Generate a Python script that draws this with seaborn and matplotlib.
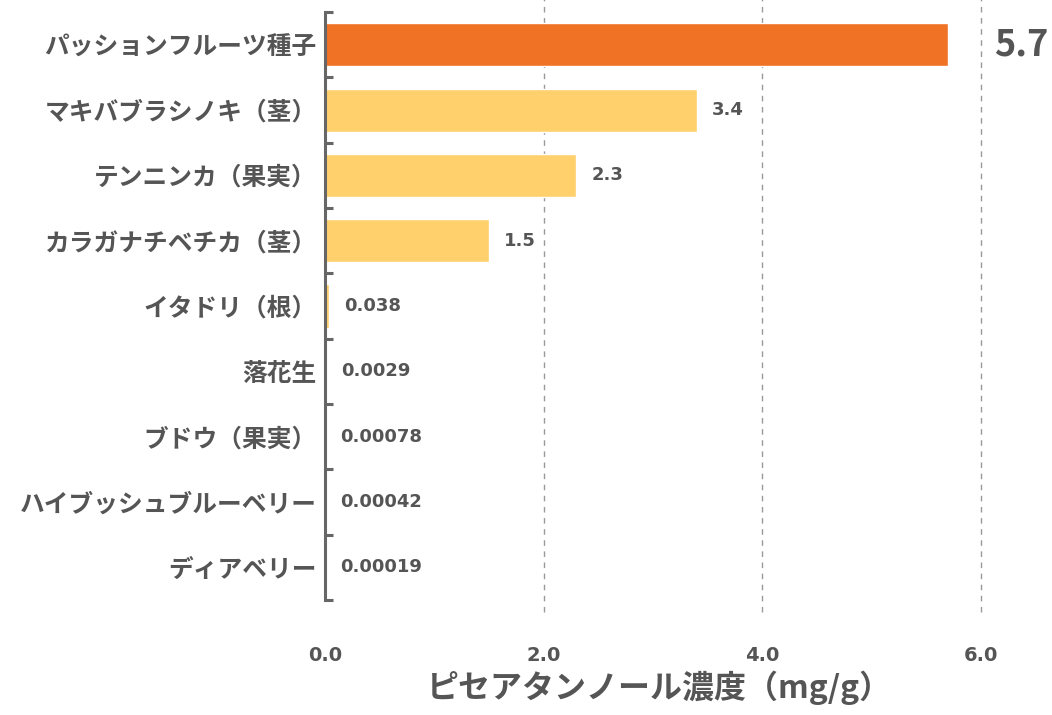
import matplotlib
matplotlib.use("Agg")
import matplotlib.pyplot as plt
import seaborn as sns
import pandas as pd

# Piceatannol concentration by source (mg/g)
categories = [
    "パッションフルーツ種子",
    "マキバブラシノキ（茎）",
    "テンニンカ（果実）",
    "カラガナチベチカ（茎）",
    "イタドリ（根）",
    "落花生",
    "ブドウ（果実）",
    "ハイブッシュブルーベリー",
    "ディアベリー",
]
values = [5.7, 3.4, 2.3, 1.5, 0.038, 0.0029, 0.00078, 0.00042, 0.00019]
value_labels = ["5.7", "3.4", "2.3", "1.5", "0.038", "0.0029", "0.00078", "0.00042", "0.00019"]
x_ticks = [0.0, 2.0, 4.0, 6.0]
x_tick_labels = ["0.0", "2.0", "4.0", "6.0"]
x_label = "ピセアタンノール濃度（mg/g）"

sns.set_style("white")
plt.rcParams["font.family"] = ["Noto Sans CJK JP", "DejaVu Sans"]

text_color = "#555555"
axis_color = "#666666"
highlight = "#F07225"
base = "#FFD06B"
num_font = ["DejaVu Sans"]

df = pd.DataFrame({"name": categories, "value": values})
palette = {c: (highlight if i == 0 else base) for i, c in enumerate(categories)}

fig = plt.figure(figsize=(10.52, 7.15), dpi=100)
ax = fig.add_axes([0.309, 0.161, 0.691, 0.822])

sns.barplot(data=df, x="value", y="name", hue="name", palette=palette,
            order=categories, legend=False, width=0.66, ax=ax, saturation=1)

ax.set_xlim(0, 6.65)
ax.set_ylim(len(categories) - 0.5, -0.5)

# dashed reference lines
for xv in x_ticks[1:]:
    ax.axvline(xv, ymin=-0.02, ymax=1.03, color="#999999", lw=1.0,
               ls=(0, (4, 4)), clip_on=False, zorder=0)

# left spine with inward ticks at the row boundaries
for s in ["top", "right", "bottom"]:
    ax.spines[s].set_visible(False)
ax.spines["left"].set_color(axis_color)
ax.spines["left"].set_linewidth(2.2)
for yb in [i - 0.5 for i in range(len(categories) + 1)]:
    ax.plot([0, 0.075], [yb, yb], color=axis_color, lw=2.2,
            solid_capstyle="butt", clip_on=False, zorder=3)

ax.set_yticks(range(len(categories)))
ax.set_yticklabels(categories, fontsize=17.8, fontweight="bold", color=text_color)
ax.tick_params(axis="y", length=0, pad=6)

ax.set_xticks(x_ticks)
ax.set_xticklabels(x_tick_labels, fontsize=14, fontweight="bold",
                   color=text_color, family=num_font)
ax.tick_params(axis="x", length=0, pad=33)
ax.set_xlabel(x_label, fontsize=23, fontweight="bold", color=text_color)
ax.xaxis.set_label_coords(0.46, -0.12)
ax.set_ylabel("")

# value labels
for i, (v, lab) in enumerate(zip(values, value_labels)):
    if i == 0:
        ax.text(v + 0.42, i, lab, va="center", ha="left", fontsize=26,
                fontweight="bold", color=text_color)
    else:
        ax.text(v + 0.14, i, lab, va="center", ha="left", fontsize=13,
                fontweight="bold", color=text_color, family=num_font)

fig.savefig("out.png", dpi=100)
